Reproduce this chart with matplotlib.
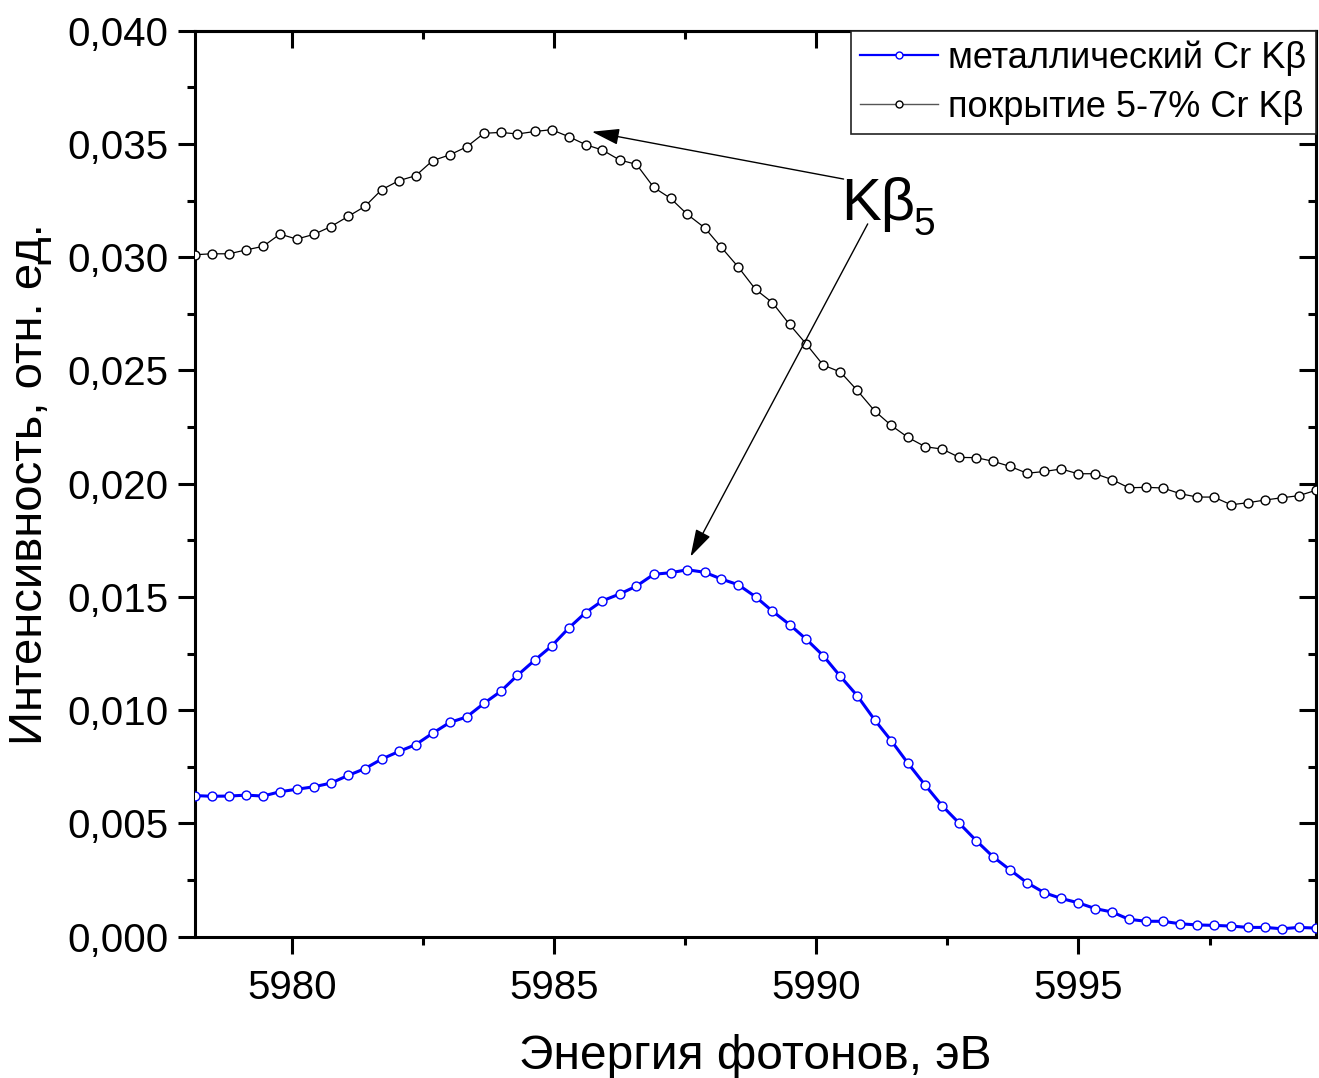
import matplotlib
matplotlib.use("Agg")
import matplotlib.pyplot as plt
from matplotlib.lines import Line2D
from matplotlib.ticker import MultipleLocator, FuncFormatter
from matplotlib import font_manager

# ---------------- data ----------------
energy = [5978.15, 5978.47, 5978.80, 5979.12, 5979.45, 5979.77, 5980.09, 5980.42,
          5980.74, 5981.07, 5981.39, 5981.71, 5982.04, 5982.36, 5982.68, 5983.01,
          5983.33, 5983.66, 5983.98, 5984.30, 5984.63, 5984.95, 5985.28, 5985.60,
          5985.92, 5986.25, 5986.57, 5986.90, 5987.22, 5987.54, 5987.87, 5988.19,
          5988.51, 5988.84, 5989.16, 5989.49, 5989.81, 5990.13, 5990.46, 5990.78,
          5991.11, 5991.43, 5991.75, 5992.08, 5992.40, 5992.73, 5993.05, 5993.37,
          5993.70, 5994.02, 5994.35, 5994.67, 5994.99, 5995.32, 5995.64, 5995.96,
          5996.29, 5996.61, 5996.94, 5997.26, 5997.58, 5997.91, 5998.23, 5998.56,
          5998.88, 5999.20, 5999.53]

metal_cr = [0.00623, 0.00620, 0.00621, 0.00625, 0.00621, 0.00640, 0.00651, 0.00662,
            0.00678, 0.00712, 0.00742, 0.00784, 0.00818, 0.00848, 0.00898, 0.00946,
            0.00970, 0.01030, 0.01083, 0.01154, 0.01221, 0.01283, 0.01363, 0.01431,
            0.01483, 0.01513, 0.01548, 0.01600, 0.01607, 0.01620, 0.01609, 0.01579,
            0.01554, 0.01501, 0.01438, 0.01378, 0.01313, 0.01241, 0.01149, 0.01064,
            0.00958, 0.00865, 0.00765, 0.00668, 0.00578, 0.00500, 0.00424, 0.00353,
            0.00294, 0.00238, 0.00194, 0.00169, 0.00150, 0.00124, 0.00109, 0.00077,
            0.00068, 0.00068, 0.00057, 0.00052, 0.00050, 0.00047, 0.00041, 0.00041,
            0.00035, 0.00041, 0.00038]

coating_cr = [0.03011, 0.03015, 0.03015, 0.03032, 0.03048, 0.03102, 0.03080, 0.03101,
              0.03135, 0.03180, 0.03224, 0.03298, 0.03338, 0.03360, 0.03426, 0.03452,
              0.03487, 0.03547, 0.03551, 0.03544, 0.03555, 0.03563, 0.03532, 0.03497,
              0.03473, 0.03429, 0.03410, 0.03308, 0.03260, 0.03189, 0.03130, 0.03043,
              0.02957, 0.02858, 0.02800, 0.02703, 0.02616, 0.02524, 0.02493, 0.02412,
              0.02322, 0.02257, 0.02204, 0.02163, 0.02153, 0.02116, 0.02115, 0.02099,
              0.02076, 0.02046, 0.02054, 0.02065, 0.02044, 0.02044, 0.02018, 0.01982,
              0.01984, 0.01981, 0.01956, 0.01941, 0.01941, 0.01907, 0.01916, 0.01928,
              0.01938, 0.01947, 0.01971]

series_labels = ["металлический Cr Kβ", "покрытие 5-7% Cr Kβ"]
x_label = "Энергия фотонов, эВ"
y_label = "Интенсивность, отн. ед."
x_ticks = [5980, 5985, 5990, 5995]
y_ticks = [0.000, 0.005, 0.010, 0.015, 0.020, 0.025, 0.030, 0.035, 0.040]

# ---------------- style ----------------
names = {f.name for f in font_manager.fontManager.ttflist}
base_font = "Liberation Sans" if "Liberation Sans" in names else "DejaVu Sans"
narrow_font = "Liberation Sans Narrow" if "Liberation Sans Narrow" in names else base_font
plt.rcParams["font.family"] = [base_font, "DejaVu Sans"]

fig = plt.figure(figsize=(13.19, 10.78), dpi=100)
ax = fig.add_axes([195 / 1319, 1 - 936.7 / 1078, (1316 - 195) / 1319, (936.7 - 30.7) / 1078])

ax.plot(energy, metal_cr, color="#0000ff", lw=2.2, marker="o", ms=6.4,
        mfc="white", mec="#0000ff", mew=1.0, zorder=3, clip_on=True)
ax.plot(energy, coating_cr, color="#000000", lw=0.9, marker="o", ms=6.4,
        mfc="white", mec="#000000", mew=1.0, zorder=3, clip_on=True)

ax.set_xlim(energy[0], energy[-1])
ax.set_ylim(0, 0.040)

ax.set_xticks(x_ticks)
ax.set_yticks(y_ticks)
ax.xaxis.set_minor_locator(MultipleLocator(2.5))
ax.yaxis.set_minor_locator(MultipleLocator(0.0025))
ax.yaxis.set_major_formatter(FuncFormatter(lambda v, p: f"{v:.3f}".replace(".", ",")))

for s in ax.spines.values():
    s.set_linewidth(2.2)
ax.tick_params(which="major", direction="out", length=12, width=2.2, labelsize=29, pad=7)
ax.tick_params(which="minor", direction="out", length=6, width=2.2)
ax.tick_params(axis="x", pad=11)

# inward ticks on top and right
top = ax.secondary_xaxis("top")
top.set_xticks(x_ticks)
top.xaxis.set_minor_locator(MultipleLocator(2.5))
top.tick_params(which="major", direction="in", length=12, width=2.2, labeltop=False)
top.tick_params(which="minor", direction="in", length=6, width=2.2)
top.spines["top"].set_linewidth(2.2)
right = ax.secondary_yaxis("right")
right.set_yticks(y_ticks)
right.yaxis.set_minor_locator(MultipleLocator(0.0025))
right.tick_params(which="major", direction="in", length=12, width=2.2, labelright=False)
right.tick_params(which="minor", direction="in", length=6, width=2.2)
right.spines["right"].set_linewidth(2.2)

ax.set_xlabel(x_label, fontsize=34.5, labelpad=20)
ax.set_ylabel(y_label, fontsize=34, fontfamily=[narrow_font, "DejaVu Sans"], labelpad=11)

# legend
handles = [
    Line2D([], [], color="#0000ff", lw=1.6, marker="o", ms=5, mfc="white", mec="#0000ff", mew=1.0),
    Line2D([], [], color="#555555", lw=1.0, marker="o", ms=5, mfc="white", mec="#000000", mew=1.0),
]
leg = ax.legend(handles, series_labels, loc="upper right", bbox_to_anchor=(1, 1),
                borderaxespad=0, fontsize=26, frameon=True, fancybox=False,
                edgecolor="#222222", framealpha=1, handlelength=2.15, handletextpad=0.3,
                labelspacing=0.4, borderpad=0.26)
leg.get_frame().set_linewidth(1.2)

# annotation K beta 5
ax.text(5990.48, 0.03164, "Kβ", fontsize=43, ha="left", va="baseline", zorder=5)
ax.text(5991.86, 0.03098, "5", fontsize=28, ha="left", va="baseline", zorder=5)
arrow_kw = dict(arrowstyle="-|>,head_length=0.85,head_width=0.25", color="black",
                lw=1.0, shrinkA=0, shrinkB=0, mutation_scale=20)
ax.annotate("", xy=(5985.72, 0.03554), xytext=(5990.52, 0.03345), arrowprops=arrow_kw, zorder=5)
ax.annotate("", xy=(5987.60, 0.01678), xytext=(5990.98, 0.03147), arrowprops=arrow_kw, zorder=5)

fig.savefig("out.png", dpi=100)
